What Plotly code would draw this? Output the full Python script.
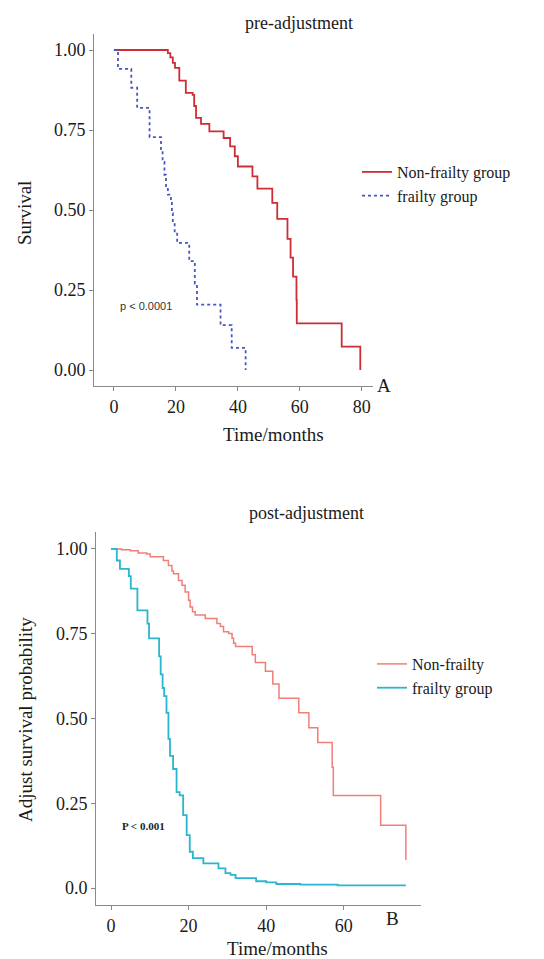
import plotly.graph_objects as go

W, H = 544, 959

# ---------------- data ----------------
# pre-adjustment (Kaplan-Meier)
pre_nonfrail_t = [0, 17.4, 18.2, 19.0, 19.7, 21.1, 23.2, 25.4, 25.9, 26.5, 28.1, 30.8, 35.4, 37.5,
                  39.0, 40.0, 44.7, 46.3, 51.1, 52.7, 56.0, 57.0, 57.8, 58.9, 59.0, 73.5, 79.5]
pre_nonfrail_s = [1.0, 0.99, 0.977, 0.96, 0.944, 0.904, 0.866, 0.86, 0.825, 0.788, 0.769, 0.746, 0.725,
                  0.699, 0.668, 0.636, 0.605, 0.567, 0.522, 0.472, 0.41, 0.351, 0.292, 0.219, 0.146,
                  0.073, 0.0]
pre_frail_t = [0, 1.3, 5.6, 7.5, 11.5, 15.2, 15.7, 16.3, 16.8, 17.4, 18.4, 18.7, 19.0, 19.6, 20.4,
               24.3, 26.1, 26.8, 34.4, 38.0, 42.5]
pre_frail_s = [1.0, 0.941, 0.882, 0.819, 0.728, 0.69, 0.65, 0.61, 0.57, 0.548, 0.53, 0.49, 0.465, 0.43,
               0.397, 0.34, 0.27, 0.204, 0.14, 0.069, 0.0]

# post-adjustment (adjusted survival)
post_nonfrail_t = [0, 2.7, 5.0, 7.0, 9.2, 10.1, 13.5, 14.8, 15.7, 16.1, 17.4, 18.3, 19.1, 20.0, 20.4,
                   21.0, 21.7, 24.3, 27.3, 28.2, 29.0, 30.3, 31.2, 31.6, 32.1, 36.4, 37.2, 39.8, 41.7,
                   43.3, 48.4, 51.0, 53.3, 57.0, 57.3, 69.5, 76.0]
post_nonfrail_s = [1.0, 0.998, 0.995, 0.988, 0.985, 0.977, 0.966, 0.951, 0.935, 0.927, 0.907, 0.893, 0.873,
                   0.849, 0.829, 0.815, 0.805, 0.795, 0.78, 0.771, 0.756, 0.751, 0.737, 0.722, 0.712, 0.688,
                   0.665, 0.639, 0.602, 0.56, 0.517, 0.473, 0.429, 0.356, 0.273, 0.185, 0.083]
post_frail_t = [0, 1.5, 2.3, 4.6, 5.1, 6.8, 9.4, 9.8, 12.4, 12.8, 13.3, 13.7, 14.3, 14.8, 15.2, 16.0,
                16.9, 17.7, 18.6, 19.5, 20.3, 21.1, 23.8, 27.7, 29.5, 30.8, 32.1, 37.4, 40.0, 42.6,
                48.8, 58.4, 76.0]
post_frail_s = [1.0, 0.966, 0.941, 0.92, 0.883, 0.819, 0.78, 0.736, 0.683, 0.63, 0.59, 0.566, 0.517,
                0.44, 0.39, 0.351, 0.283, 0.273, 0.215, 0.156, 0.107, 0.088, 0.073, 0.058, 0.044, 0.039,
                0.029, 0.02, 0.017, 0.012, 0.01, 0.0076, 0.0076]

pre_xticks = [0, 20, 40, 60, 80]
post_xticks = [0, 20, 40, 60]
yticks = [0, 0.25, 0.5, 0.75, 1.0]
pre_yticktext = ["0.00", "0.25", "0.50", "0.75", "1.00"]
post_yticktext = ["0.0", "0.25", "0.50", "0.75", "1.00"]

# ---------------- styles ----------------
SERIF = "Liberation Serif, Times New Roman, serif"
AXC = "#8a8a8a"
RED = "#cc2e35"
BLUE = "#4657c2"
SALMON = "#f07f78"
CYAN = "#2ab6cc"


def px(x):
    return x / W


def py(y):
    return 1 - y / H


fig = go.Figure()
fig.add_trace(go.Scatter(x=pre_nonfrail_t, y=pre_nonfrail_s, mode="lines", line_shape="hv",
                         line=dict(color=RED, width=1.8), name="Non-frailty group",
                         xaxis="x", yaxis="y", legend="legend"))
fig.add_trace(go.Scatter(x=pre_frail_t, y=pre_frail_s, mode="lines", line_shape="hv",
                         line=dict(color=BLUE, width=1.8, dash="dot"), name="frailty group",
                         xaxis="x", yaxis="y", legend="legend"))
fig.add_trace(go.Scatter(x=post_nonfrail_t, y=post_nonfrail_s, mode="lines", line_shape="hv",
                         line=dict(color=SALMON, width=1.5), name="Non-frailty",
                         xaxis="x2", yaxis="y2", legend="legend2"))
fig.add_trace(go.Scatter(x=post_frail_t, y=post_frail_s, mode="lines", line_shape="hv",
                         line=dict(color=CYAN, width=1.8), name="frailty group",
                         xaxis="x2", yaxis="y2", legend="legend2"))

axis_common = dict(showline=True, linecolor=AXC, linewidth=1, ticks="outside", ticklen=4,
                   tickcolor=AXC, tickwidth=1, showgrid=False, zeroline=False,
                   tickfont=dict(family=SERIF, size=18, color="#1a1a1a"))

fig.update_layout(
    width=W, height=H, autosize=False,
    margin=dict(l=0, r=0, t=0, b=0),
    paper_bgcolor="white", plot_bgcolor="white",
    xaxis=dict(domain=[px(86), px(365)], range=[-6.43, 83.6], anchor="y",
               tickvals=pre_xticks, **axis_common),
    yaxis=dict(domain=[py(378), py(26)], range=[-0.05, 1.05], anchor="x",
               tickvals=yticks, ticktext=pre_yticktext, **axis_common),
    xaxis2=dict(domain=[px(88), px(413)], range=[-3.87, 79.9], anchor="y2",
                tickvals=post_xticks, **axis_common),
    yaxis2=dict(domain=[py(897), py(524)], range=[-0.05, 1.05], anchor="x2",
                tickvals=yticks, ticktext=post_yticktext, **axis_common),
    legend=dict(x=px(349), y=py(147), xanchor="left", yanchor="top",
                bgcolor="rgba(0,0,0,0)", font=dict(family=SERIF, size=16, color="#1a1a1a"),
                itemwidth=30, tracegroupgap=0),
    legend2=dict(x=px(364), y=py(639), xanchor="left", yanchor="top",
                 bgcolor="rgba(0,0,0,0)", font=dict(family=SERIF, size=16, color="#1a1a1a"),
                 itemwidth=30, tracegroupgap=0),
    showlegend=True,
)

ann = []


def add_text(text, x, y, size, family=SERIF, angle=0, xanchor="center", color="#1a1a1a"):
    ann.append(dict(text=text, x=px(x), y=py(y), xref="paper", yref="paper", showarrow=False,
                    xanchor=xanchor, yanchor="middle", textangle=angle,
                    font=dict(family=family, size=size, color=color)))


add_text("pre-adjustment", 291, 15, 18)
add_text("post-adjustment", 298, 505, 18)
add_text("Survival", 17, 205, 19, angle=-90)
add_text("Adjust survival probability", 17, 712, 19, angle=-90)
add_text("Time/months", 265, 426, 19)
add_text("Time/months", 269, 940, 19)
add_text("A", 376, 378, 19)
add_text("B", 384, 910, 19)
add_text("p &lt; 0.0001", 110, 298, 11, family="Liberation Sans, Arial, sans-serif",
         xanchor="left", color="#333333")
add_text("<b>P &lt; 0.001</b>", 112, 818, 11, xanchor="left", color="#222222")

fig.update_layout(annotations=ann)

fig.write_html("out.html")
